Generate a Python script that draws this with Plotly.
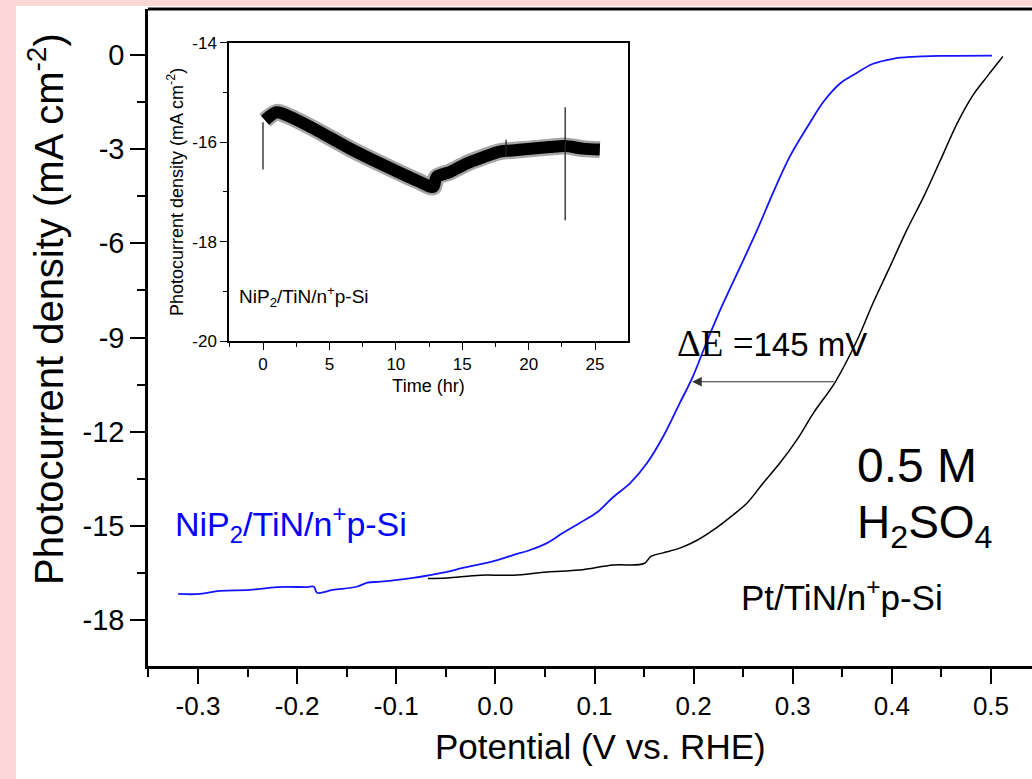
import plotly.graph_objects as go

# ---------------- data ----------------
# Main panel: LSV curves, potential (V vs. RHE) and photocurrent density (mA cm^-2)
pot_nip2 = [-0.320, -0.298, -0.278, -0.248, -0.220, -0.190, -0.183, -0.180, -0.164, -0.140,
            -0.129, -0.116, -0.083, -0.066, -0.049, -0.033, -0.015, 0.002, 0.018, 0.035,
            0.052, 0.068, 0.085, 0.103, 0.119, 0.136, 0.153, 0.169, 0.186, 0.199,
            0.214, 0.230, 0.247, 0.264, 0.280, 0.297, 0.315, 0.331, 0.348, 0.361,
            0.381, 0.401, 0.420, 0.449, 0.501]
j_nip2 = [-17.17, -17.17, -17.07, -17.04, -16.95, -16.95, -16.94, -17.13, -17.04, -16.94,
          -16.81, -16.78, -16.66, -16.57, -16.47, -16.34, -16.22, -16.09, -15.93, -15.77,
          -15.55, -15.23, -14.91, -14.56, -14.08, -13.64, -13.00, -12.17, -11.09, -10.26,
          -9.08, -7.90, -6.75, -5.58, -4.40, -3.24, -2.28, -1.49, -0.90, -0.64,
          -0.28, -0.12, -0.06, -0.03, -0.02]

pot_pt = [-0.068, -0.049, -0.015, 0.018, 0.052, 0.085, 0.119, 0.150, 0.157, 0.169,
          0.186, 0.204, 0.220, 0.237, 0.254, 0.270, 0.287, 0.304, 0.321, 0.343,
          0.365, 0.381, 0.398, 0.415, 0.432, 0.449, 0.466, 0.482, 0.496, 0.512]
j_pt = [-16.68, -16.66, -16.57, -16.57, -16.47, -16.41, -16.25, -16.20, -15.97, -15.86,
        -15.71, -15.45, -15.13, -14.72, -14.27, -13.64, -13.00, -12.27, -11.40, -10.41,
        -9.08, -7.90, -6.75, -5.58, -4.52, -3.35, -2.17, -1.27, -0.69, -0.05]

# Inset: stability test, time (hr) and photocurrent density
time_hr = [0.15, 1.03, 2.03, 4.04, 6.55, 9.06, 11.57, 12.82, 13.07, 14.08,
           15.33, 16.59, 17.84, 19.10, 20.35, 21.60, 22.73, 24.10, 25.36]
j_time = [-15.56, -15.40, -15.49, -15.76, -16.13, -16.46, -16.77, -16.90, -16.70, -16.60,
          -16.43, -16.30, -16.19, -16.16, -16.13, -16.10, -16.08, -16.13, -16.15]
spike_t = [0.0, 0.0, None, 18.30, 18.30, None, 22.75, 22.75]
spike_j = [-16.55, -15.60, None, -15.95, -16.30, None, -15.30, -17.57]

# tick settings (labels use a plain hyphen, as in the picture)
main_xticks = [-0.3, -0.2, -0.1, 0.0, 0.1, 0.2, 0.3, 0.4, 0.5]
main_xlabels = ["-0.3", "-0.2", "-0.1", "0.0", "0.1", "0.2", "0.3", "0.4", "0.5"]
main_yticks = [0, -3, -6, -9, -12, -15, -18]
main_ylabels = ["0", "-3", "-6", "-9", "-12", "-15", "-18"]
inset_xticks = [0, 5, 10, 15, 20, 25]
inset_xlabels = ["0", "5", "10", "15", "20", "25"]
inset_yticks = [-14, -16, -18, -20]
inset_ylabels = ["-14", "-16", "-18", "-20"]

# ---------------- layout geometry ----------------
W, H = 1032, 779
L, R, T, B = 148, 0, 9, 113
PW, PH = W - L - R, H - T - B

def px_x(p):
    return (p - L) / PW

def px_y(p):
    return (H - B - p) / PH

SANS = "Liberation Sans, Arial, sans-serif"
PINK = "#fdd7d7"
BLUE = "#1414ff"

fig = go.Figure()

fig.add_trace(go.Scatter(x=pot_pt, y=j_pt, mode="lines",
                         line=dict(color="black", width=1.5, shape="spline", smoothing=1.0),
                         showlegend=False, hoverinfo="skip"))
fig.add_trace(go.Scatter(x=pot_nip2, y=j_nip2, mode="lines",
                         line=dict(color=BLUE, width=1.8, shape="spline", smoothing=1.0),
                         showlegend=False, hoverinfo="skip"))

# inset traces
fig.add_trace(go.Scatter(x=time_hr, y=j_time, mode="lines", xaxis="x2", yaxis="y2",
                         line=dict(color="rgba(0,0,0,0.35)", width=17, shape="spline", smoothing=0.8),
                         showlegend=False, hoverinfo="skip"))
fig.add_trace(go.Scatter(x=time_hr, y=j_time, mode="lines", xaxis="x2", yaxis="y2",
                         line=dict(color="black", width=12, shape="spline", smoothing=0.8),
                         showlegend=False, hoverinfo="skip"))
fig.add_trace(go.Scatter(x=spike_t, y=spike_j, mode="lines", xaxis="x2", yaxis="y2",
                         line=dict(color="#222222", width=1.3),
                         showlegend=False, hoverinfo="skip", connectgaps=False))

x_lo = -0.3 - (198 - L) / 991.0
x_hi = 0.5 + (W - 991) / 991.0
y_hi = (55 - T) / 31.39
y_lo = -(H - B - 55) / 31.39

fig.update_layout(
    width=W, height=H,
    margin=dict(l=L, r=R, t=T, b=B, pad=0),
    paper_bgcolor=PINK,
    plot_bgcolor="white",
    font=dict(family=SANS, color="black"),
    xaxis=dict(
        range=[x_lo, x_hi], tickvals=main_xticks, ticktext=main_xlabels,
        showgrid=False, zeroline=False,
        showline=True, linecolor="black", linewidth=2.5,
        ticks="outside", ticklen=15, tickwidth=2, tickcolor="black",
        minor=dict(dtick=0.05, tick0=0, ticks="outside", ticklen=8, tickwidth=2, tickcolor="black"),
        tickfont=dict(family=SANS, size=26),
    ),
    yaxis=dict(
        range=[y_lo, y_hi], tickvals=main_yticks, ticktext=main_ylabels,
        showgrid=False, zeroline=False,
        showline=True, linecolor="black", linewidth=2.5,
        ticks="outside", ticklen=15, tickwidth=2, tickcolor="black",
        minor=dict(dtick=1.5, tick0=0, ticks="outside", ticklen=8, tickwidth=2, tickcolor="black"),
        tickfont=dict(family=SANS, size=29),
    ),
    xaxis2=dict(
        domain=[px_x(229), px_x(628)], anchor="y2",
        range=[-2.56, 27.48], tickvals=inset_xticks, ticktext=inset_xlabels,
        showgrid=False, zeroline=False,
        showline=True, mirror=True, linecolor="black", linewidth=1.5,
        ticks="outside", ticklen=7, tickwidth=1.3, tickcolor="black",
        minor=dict(dtick=2.5, tick0=0, ticks="outside", ticklen=4, tickwidth=1.2, tickcolor="black"),
        tickfont=dict(family=SANS, size=17),
        title=dict(text="Time (hr)", font=dict(family=SANS, size=18), standoff=6),
    ),
    yaxis2=dict(
        domain=[px_y(341), px_y(42.7)], anchor="x2",
        range=[-20, -14], tickvals=inset_yticks, ticktext=inset_ylabels,
        showgrid=False, zeroline=False,
        showline=True, mirror=True, linecolor="black", linewidth=1.5,
        ticks="outside", ticklen=7, tickwidth=1.3, tickcolor="black",
        minor=dict(dtick=1, tick0=0, ticks="outside", ticklen=4, tickwidth=1.2, tickcolor="black"),
        tickfont=dict(family=SANS, size=17),
        title=dict(text="Photocurrent density (mA cm<sup>-2</sup>)", font=dict(family=SANS, size=18), standoff=4),
    ),
)

# white page area on the pink background, and the top frame line
fig.add_shape(type="rect", xref="paper", yref="paper", layer="below",
              x0=px_x(16), x1=px_x(W + 5), y0=px_y(H + 5), y1=px_y(6),
              fillcolor="white", line=dict(width=0))
fig.add_shape(type="line", xref="paper", yref="paper",
              x0=0, x1=1, y0=1, y1=1, line=dict(color="black", width=3))

# main axis titles (placed as in the picture)
fig.add_annotation(x=px_x(46), y=px_y(309), xref="paper", yref="paper",
                   xanchor="center", yanchor="middle", textangle=-90, showarrow=False,
                   text="Photocurrent density (mA cm<sup>-2</sup>)",
                   font=dict(family=SANS, size=40, color="black"))
fig.add_annotation(x=px_x(600), y=px_y(746), xref="paper", yref="paper",
                   xanchor="center", yanchor="middle", showarrow=False,
                   text="Potential (V vs. RHE)",
                   font=dict(family=SANS, size=35, color="black"))

# arrow for Delta E
fig.add_annotation(x=0.1985, y=-10.41, ax=0.343, ay=-10.41, xref="x", yref="y",
                   axref="x", ayref="y", text="", showarrow=True,
                   arrowhead=2, arrowsize=1.6, arrowwidth=1.2, arrowcolor="#333333")

fig.add_annotation(x=0.181, y=-9.20, xref="x", yref="y", xanchor="left", yanchor="middle",
                   showarrow=False,
                   text="<span style='font-family:Liberation Serif, Times New Roman, serif;font-size:37px'>ΔE =</span>145 mV",
                   font=dict(family=SANS, size=33, color="black"))

fig.add_annotation(x=-0.325, y=-14.94, xref="x", yref="y", xanchor="left", yanchor="middle",
                   showarrow=False, text="NiP<sub>2</sub>/TiN/n<sup>+</sup>p-Si",
                   font=dict(family=SANS, size=34, color="#0000ff"))
fig.add_annotation(x=0.246, y=-17.20, xref="x", yref="y", xanchor="left", yanchor="middle",
                   showarrow=False, text="Pt/TiN/n<sup>+</sup>p-Si",
                   font=dict(family=SANS, size=35, color="black"))
fig.add_annotation(x=0.363, y=-13.09, xref="x", yref="y", xanchor="left", yanchor="middle",
                   showarrow=False, text="0.5 M",
                   font=dict(family=SANS, size=48, color="black"))
fig.add_annotation(x=0.363, y=-14.98, xref="x", yref="y", xanchor="left", yanchor="middle",
                   showarrow=False, text="H<sub>2</sub>SO<sub>4</sub>",
                   font=dict(family=SANS, size=46, color="black"))

# inset label
fig.add_annotation(x=-1.95, y=-19.1, xref="x2", yref="y2", xanchor="left", yanchor="middle",
                   showarrow=False, text="NiP<sub>2</sub>/TiN/n<sup>+</sup>p-Si",
                   font=dict(family=SANS, size=19, color="black"))

fig.write_html("out.html")
